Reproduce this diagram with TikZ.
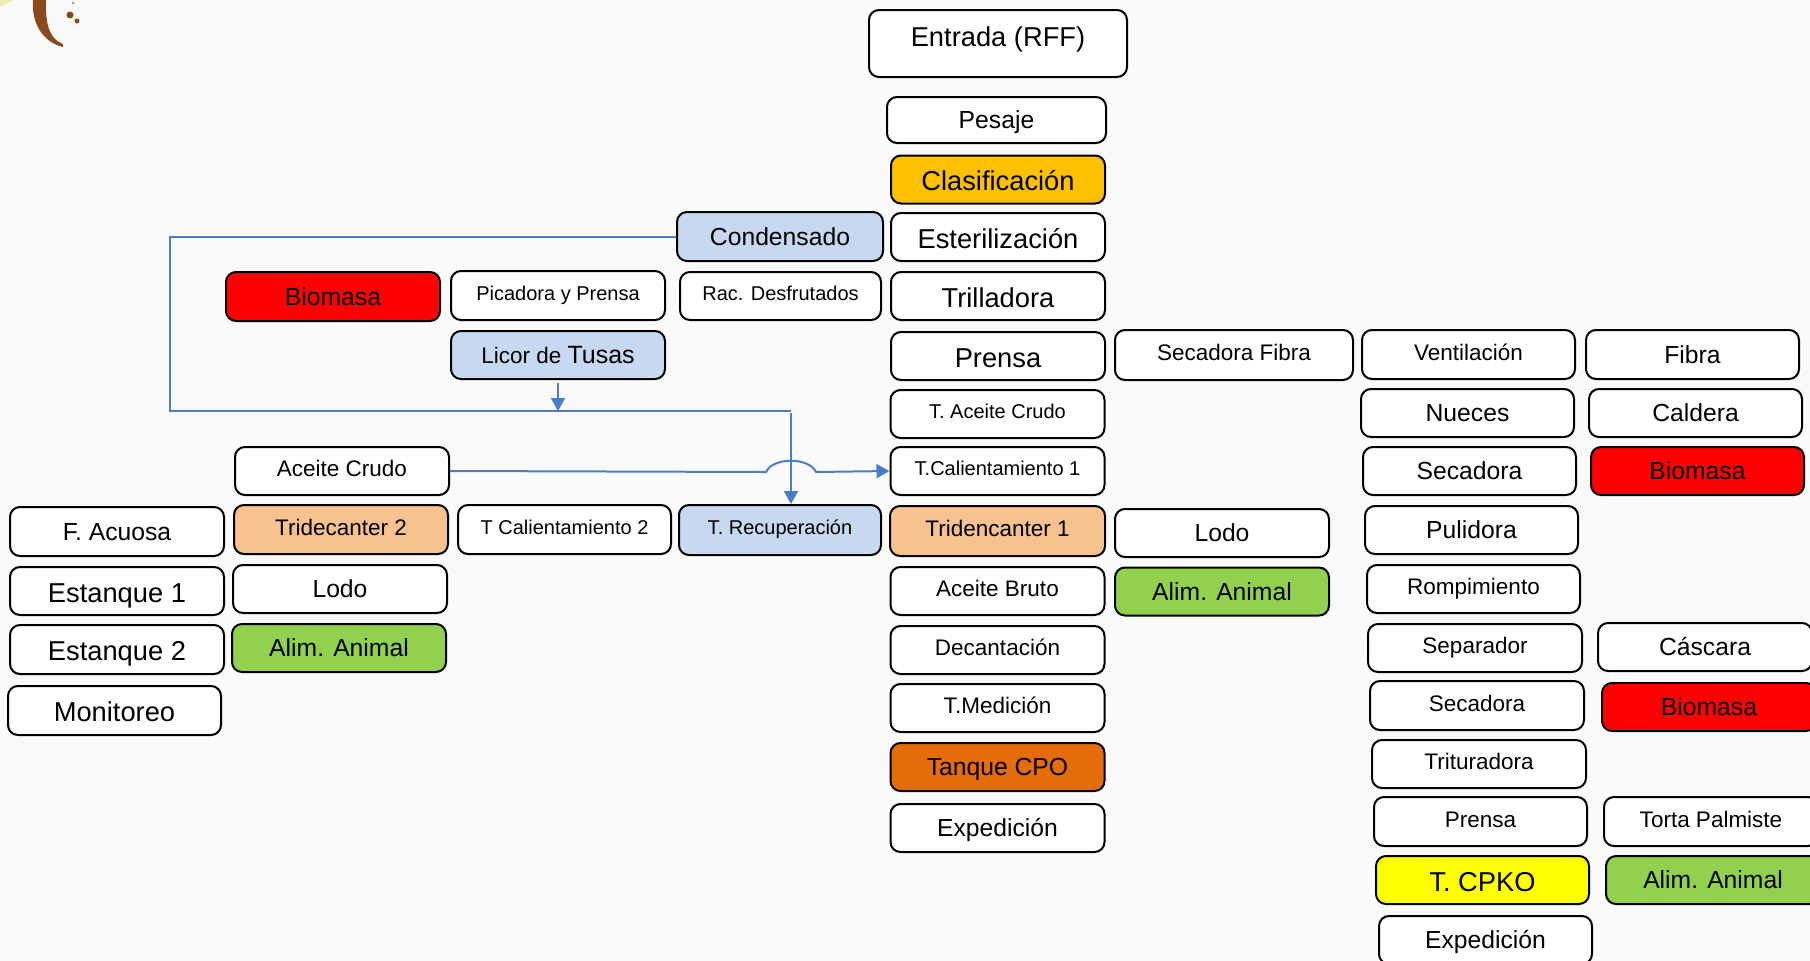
\documentclass[tikz,border=0pt]{standalone}
\usepackage{fontspec}
\setmainfont{Liberation Sans}
\usetikzlibrary{arrows.meta}
\definecolor{gold}{HTML}{FFC000}
\definecolor{redb}{HTML}{FF0000}
\definecolor{peach}{HTML}{F8C290}
\definecolor{cpo}{HTML}{E46C0A}
\definecolor{lblue}{HTML}{C6D9F1}
\definecolor{lgreen}{HTML}{92D050}
\definecolor{yel}{HTML}{FFFF00}
\definecolor{conn}{HTML}{4A7EC4}
\definecolor{bgc}{HTML}{FAFAFA}
\definecolor{logob}{HTML}{8B4A1C}
\definecolor{logog}{HTML}{E8EDB0}
\tikzset{
  nbox/.style={draw=black, line width=2pt, rounded corners=10pt, fill=white, inner sep=0pt,
    minimum width=214pt, minimum height=48pt, align=center, text=black},
  fA/.style={font=\fontsize{27.3}{30}\selectfont, text height=22pt, text depth=0pt},
  fB/.style={font=\fontsize{24.7}{28}\selectfont, text height=17.7pt, text depth=0pt},
  fC/.style={font=\fontsize{22.5}{26}\selectfont, text height=16.1pt, text depth=4.5pt},
  fD/.style={font=\fontsize{20}{24}\selectfont, text height=14.3pt, text depth=4.5pt},
  wire/.style={draw=conn, line width=2pt},
  arrowhd/.style={-{Triangle[width=14pt,length=13pt]}},
}
\begin{document}
\begin{tikzpicture}[x=1pt,y=-1pt]
\useasboundingbox (0,0) rectangle (1810,961);
\fill[bgc] (0,0) rectangle (1810,961);
% corner decoration
\fill[logog] (0,0) -- (14,0) -- (0,7) -- cycle;
\fill[logob] (33,-1) .. controls (31,22) and (42,42) .. (63,47) .. controls (64,45) and (63,44) .. (61,43) .. controls (49,38) and (45,22) .. (46,-1) -- cycle;
\fill[logob] (70,15) circle (3.5);
\fill[logob] (77,21) circle (2.5);
\fill[logob!60] (73,3) circle (1.5);

% centre column
\node[nbox, fA, minimum width=258pt, minimum height=67pt, text depth=15.5pt] (entrada) at (998,43.5) {Entrada (RFF)};
\node[nbox, fB, minimum width=219pt, minimum height=46pt] (pesaje) at (996.5,120) {Pesaje};
\node[nbox, fA, fill=gold] (clasif) at (998,179.5) {Clasificación};
\node[nbox, fA] (ester) at (998,237) {Esterilización};
\node[nbox, fA] (trill) at (998,296) {Trilladora};
\node[nbox, fA] (prensa) at (998,356) {Prensa};
\node[nbox, fD] (tacrudo) at (997.5,414) {T. Aceite Crudo};
\node[nbox, fD] (tcal1) at (997.5,471) {T.Calientamiento 1};
\node[nbox, fC, fill=peach, minimum width=215pt, minimum height=50pt] (tri1) at (997.5,531) {Tridencanter 1};
\node[nbox, fC] (abruto) at (997.5,591) {Aceite Bruto};
\node[nbox, fC] (decant) at (997.5,650) {Decantación};
\node[nbox, fC] (tmed) at (997.5,708) {T.Medición};
\node[nbox, fB, fill=cpo] (tcpo) at (997.5,767) {Tanque CPO};
\node[nbox, fB] (exped) at (997.5,828) {Expedición};

% left side
\node[nbox, fB, fill=lblue, minimum width=206pt, minimum height=49pt] (condensado) at (780,236.5) {Condensado};
\node[nbox, fD, minimum width=201pt] (rac) at (780.5,296) {Rac. Desfrutados};
\node[nbox, fD, minimum height=49pt] (picadora) at (558,295.5) {Picadora y Prensa};
\node[nbox, fB, fill=redb, minimum height=49pt] (biomasa1) at (333,296.5) {Biomasa};
\node[nbox, fB, fill=lblue] (licor) at (558,355) {{\fontsize{22.5}{26}\selectfont Licor de }{\fontsize{25}{28}\selectfont Tusas}};
\node[nbox, fC] (acrudo) at (342,471) {Aceite Crudo};
\node[nbox, fD, fill=lblue, minimum width=202pt, minimum height=50pt] (trec) at (780,530) {T. Recuperación};
\node[nbox, fD, minimum width=213pt, minimum height=49pt] (tcal2) at (564.5,529.5) {T Calientamiento 2};
\node[nbox, fC, fill=peach, minimum height=49pt] (tri2) at (341,529.5) {Tridecanter 2};
\node[nbox, fB, minimum height=49pt] (facuosa) at (117,531.5) {F. Acuosa};
\node[nbox, fB] (lodo1) at (340,589) {Lodo};
\node[nbox, fA] (estanque1) at (117,591) {Estanque 1};
\node[nbox, fB, fill=lgreen] (alim1) at (339,648) {Alim. Animal};
\node[nbox, fA, minimum height=49pt] (estanque2) at (117,649.5) {Estanque 2};
\node[nbox, fA, minimum width=213pt, minimum height=49pt] (monitoreo) at (114.5,710.5) {Monitoreo};

% right side
\node[nbox, fC, minimum width=238pt, minimum height=50pt] (secfibra) at (1234,355) {Secadora Fibra};
\node[nbox, fB] (lodo2) at (1222,533) {Lodo};
\node[nbox, fB, fill=lgreen] (alim2) at (1222,591.5) {Alim. Animal};
\node[nbox, fC, minimum width=213pt, minimum height=49pt] (ventil) at (1468.5,354.5) {Ventilación};
\node[nbox, fB, minimum width=213pt, minimum height=49pt] (fibra) at (1692.5,354.5) {Fibra};
\node[nbox, fB, minimum width=213pt] (nueces) at (1467.5,413) {Nueces};
\node[nbox, fB, minimum width=213pt] (caldera) at (1695.5,413) {Caldera};
\node[nbox, fB, minimum width=213pt] (secadora1) at (1469.5,471) {Secadora};
\node[nbox, fB, fill=redb, minimum width=213pt] (biomasa2) at (1697.5,471) {Biomasa};
\node[nbox, fB, minimum width=213pt] (pulidora) at (1471.5,530) {Pulidora};
\node[nbox, fC, minimum width=213pt] (rompim) at (1473.5,589) {Rompimiento};
\node[nbox, fC] (separador) at (1475,648) {Separador};
\node[nbox, fB] (cascara) at (1705,647) {Cáscara};
\node[nbox, fC, minimum height=49pt] (secadora2) at (1477,705.5) {Secadora};
\node[nbox, fB, fill=redb] (biomasa3) at (1709,707) {Biomasa};
\node[nbox, fC] (trituradora) at (1479,764) {Trituradora};
\node[nbox, fC, minimum width=213pt, minimum height=49pt] (prensa2) at (1480.5,821.5) {Prensa};
\node[nbox, fC, minimum height=49pt] (torta) at (1711,821.5) {Torta Palmiste};
\node[nbox, fA, fill=yel, minimum width=213pt] (tcpko) at (1482.5,880) {T. CPKO};
\node[nbox, fB, fill=lgreen] (alim3) at (1713,880) {Alim. Animal};
\node[nbox, fB, minimum width=213pt] (exped2) at (1485.5,940) {Expedición};

% connectors
\coordinate (c2) at (170,411);
\coordinate (j) at (791,411);
\coordinate (h1) at (766,472);
\coordinate (h2) at (816,472);
\draw[wire] (condensado.west) -| (c2) -- (j);
\draw[wire, arrowhd] ([yshift=-2pt]j) -- (j |- trec.north);
\draw[wire, arrowhd, shorten <=3pt] (licor.south) -- (licor.south |- j);
\draw[wire, arrowhd] (acrudo.east) -- (h1) .. controls (773,457) and (809,457) .. (h2) -- (tcal1.west);
\end{tikzpicture}
\end{document}
